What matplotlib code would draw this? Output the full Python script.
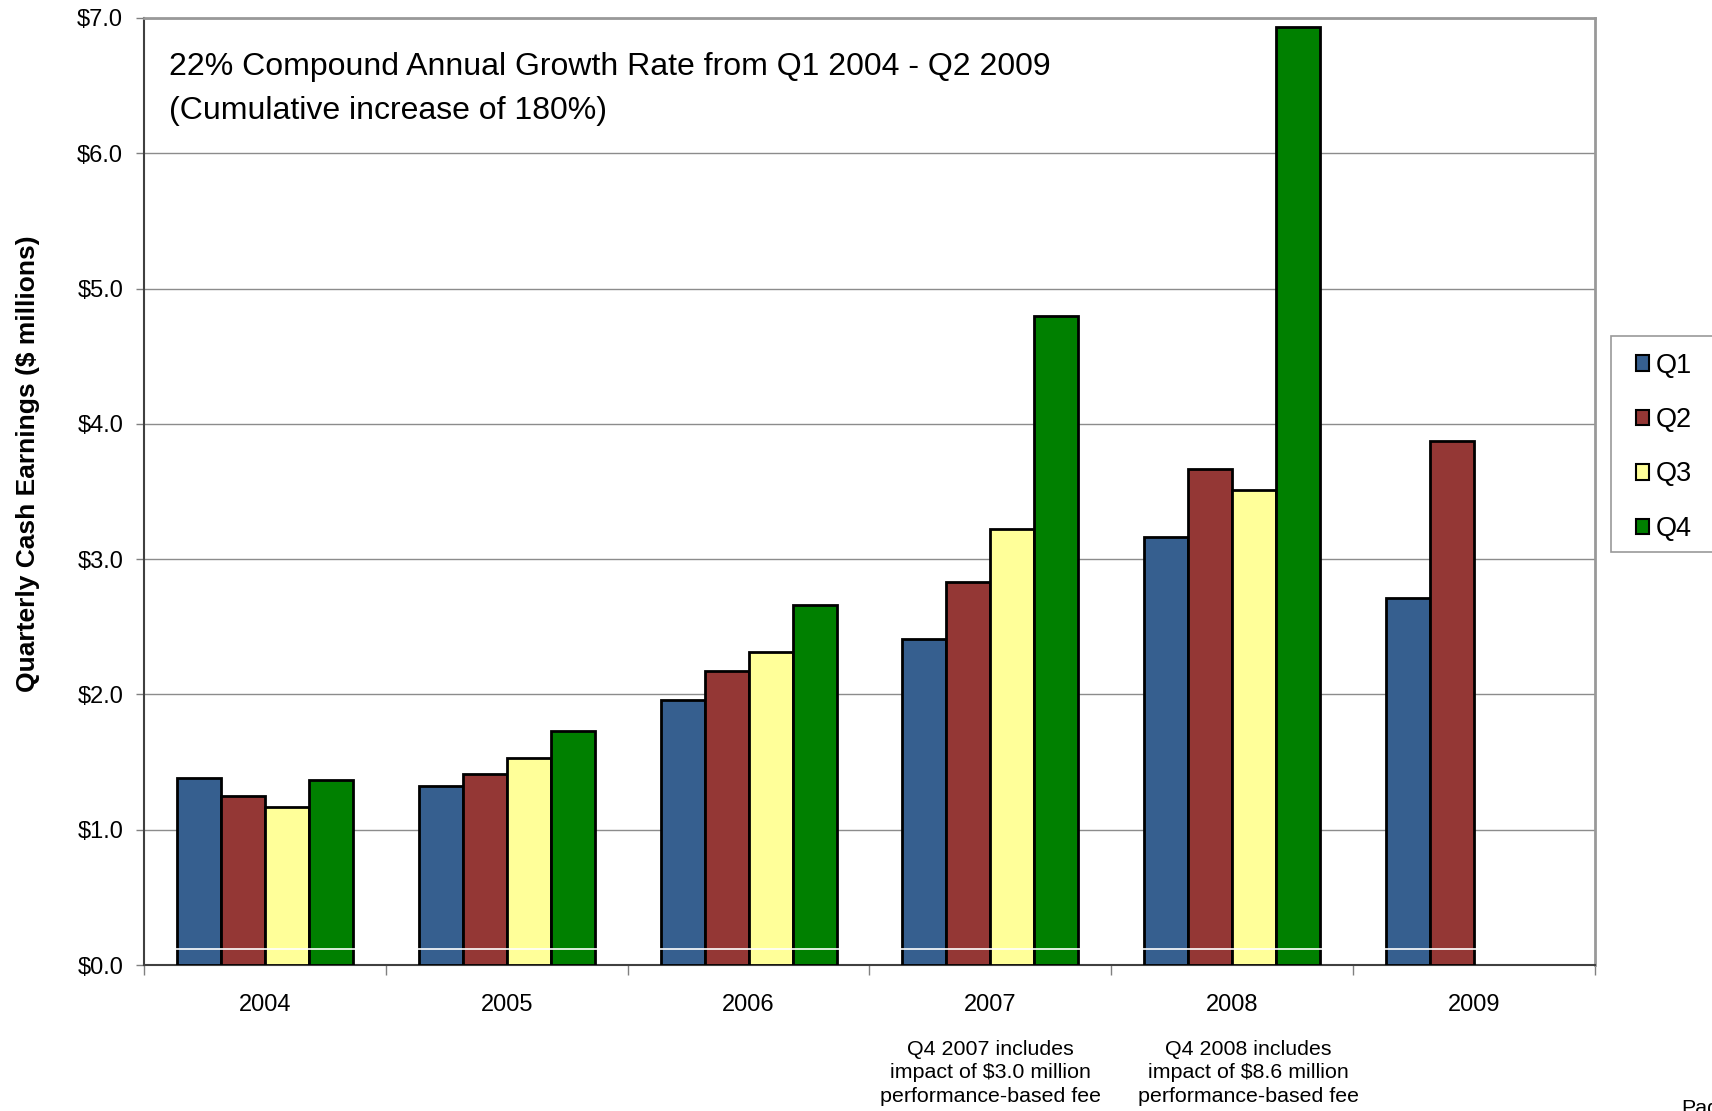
import matplotlib
matplotlib.use("Agg")
import matplotlib.pyplot as plt
from matplotlib.patches import Rectangle
import numpy as np

plt.rcParams['font.family'] = ['Liberation Sans', 'DejaVu Sans']

years = ["2004", "2005", "2006", "2007", "2008", "2009"]
q1 = [1.38, 1.32, 1.96, 2.41, 3.16, 2.71]
q2 = [1.25, 1.41, 2.17, 2.83, 3.67, 3.87]
q3 = [1.17, 1.53, 2.31, 3.22, 3.51]
q4 = [1.37, 1.73, 2.66, 4.80, 6.93]
series_names = ["Q1", "Q2", "Q3", "Q4"]
series_vals = [q1, q2, q3, q4]
colors = ["#365F8F", "#943735", "#FFFF99", "#008000"]
yticks = [0, 1, 2, 3, 4, 5, 6, 7]
ytick_labels = ["$0.0", "$1.0", "$2.0", "$3.0", "$4.0", "$5.0", "$6.0", "$7.0"]
ylabel = "Quarterly Cash Earnings ($ millions)"
note_lines = ["22% Compound Annual Growth Rate from Q1 2004 - Q2 2009",
              "(Cumulative increase of 180%)"]
note_2007 = "Q4 2007 includes\nimpact of \\$3.0 million\nperformance-based fee"
note_2008 = "Q4 2008 includes\nimpact of \\$8.6 million\nperformance-based fee"

W, H = 1712, 1111
fig = plt.figure(figsize=(W / 100, H / 100), dpi=100)
ax = fig.add_axes([144 / W, 1 - 965 / H, (1595 - 144) / W, (965 - 18) / H])

bw = 0.182
handles = []
for i, (name, vals, c) in enumerate(zip(series_names, series_vals, colors)):
    x = np.arange(len(vals)) + (i - 1.5) * bw
    b = ax.bar(x, vals, width=bw, color=c, edgecolor="black", linewidth=2.0,
               label=name, zorder=3)
    handles.append(b)

# thin white line near base of bars (as in reference)
ax.axhline(0.12, xmin=0.003, xmax=0.997, color="white", linewidth=1.2, zorder=4)

ax.set_xlim(-0.5, 5.5)
ax.set_ylim(0, 7)
ax.set_yticks(yticks)
ax.set_yticklabels(ytick_labels, fontsize=17)
ax.yaxis.grid(True, color="#8c8c8c", linewidth=1.0, zorder=0)
ax.set_axisbelow(True)

ax.set_xticks(np.arange(len(years)))
ax.set_xticklabels(years, fontsize=17)
ax.tick_params(axis="x", length=0, pad=21)
ax.set_xticks(np.arange(-0.5, 6.0, 1.0), minor=True)
ax.tick_params(axis="x", which="minor", length=7, width=1, color="#808080", direction="out")
ax.tick_params(axis="y", length=6, width=1, color="#808080", direction="out", pad=9)

for s in ["left", "bottom"]:
    ax.spines[s].set_color("#404040")
    ax.spines[s].set_linewidth(1.5)
for s in ["top", "right"]:
    ax.spines[s].set_color("#999999")
    ax.spines[s].set_linewidth(2.0)

ax.set_ylabel(ylabel, fontsize=19, fontweight="bold")
ax.yaxis.set_label_coords(-0.0715, 0.529)

fig.text(169 / W, 1 - 67 / H, note_lines[0], fontsize=23, ha="left", va="center")
fig.text(169 / W, 1 - 111 / H, note_lines[1], fontsize=23, ha="left", va="center")

fig.text(990 / W, 1 - 1073 / H, note_2007, fontsize=15.4, ha="center", va="center",
         linespacing=1.32)
fig.text(1248 / W, 1 - 1073 / H, note_2008, fontsize=15.4, ha="center", va="center",
         linespacing=1.32)
fig.text(1681 / W, 1 - 1118 / H, "Page", fontsize=15.4, ha="left", va="bottom")

# legend box
fig.patches.append(Rectangle((1611 / W, 1 - 552 / H), 140 / W, 216 / H,
                             transform=fig.transFigure, facecolor="white",
                             edgecolor="#999999", linewidth=1.2, zorder=1))
leg = fig.legend(handles, series_names, loc="upper left",
                 bbox_to_anchor=(1622 / W, 1 - 339 / H),
                 bbox_transform=fig.transFigure, fontsize=19.5, frameon=False,
                 handlelength=0.5, handleheight=0.5,
                 handletextpad=0.25, labelspacing=1.05, borderpad=0.5,
                 borderaxespad=0)
leg.set_zorder(10)
for h in leg.legend_handles:
    h.set_linewidth(1.5)

fig.savefig("out.png", dpi=100)
